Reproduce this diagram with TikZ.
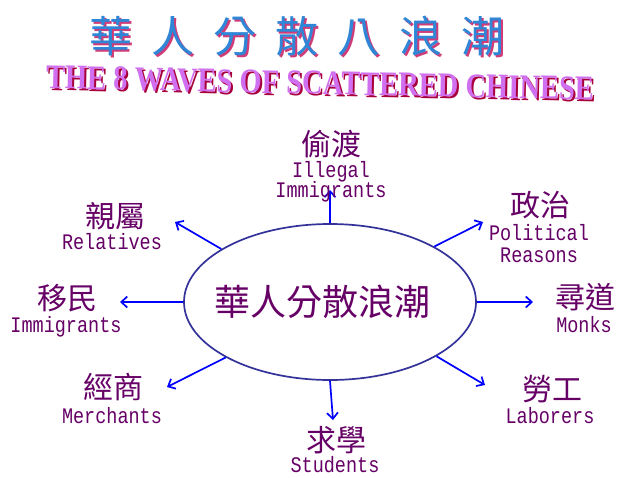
\documentclass[tikz,border=0pt]{standalone}
\usepackage{fontspec}
\usepackage{graphicx}
\usetikzlibrary{shapes.geometric,arrows.meta}
\newfontfamily\cjkf{Noto Sans CJK TC}
\newfontfamily\monof{Liberation Mono}
\newfontfamily\titlef{Liberation Serif}
\definecolor{lab}{HTML}{660066}
\definecolor{ellc}{HTML}{333399}
\definecolor{arrc}{HTML}{0000FF}
\definecolor{tmain}{HTML}{2F86D6}
\definecolor{tshadow}{HTML}{D03C78}
\definecolor{smain}{HTML}{D070F0}
\definecolor{sshadow}{HTML}{A8003C}
\newcommand\entx[1]{\scalebox{1}[1.2]{#1}}
\newcommand\subtxt{\resizebox{548pt}{23pt}{\titlef\bfseries THE 8 WAVES OF SCATTERED CHINESE}}
\newcommand\titletxt{華\hspace{19pt}人\hspace{19pt}分\hspace{19pt}散\hspace{19pt}八\hspace{19pt}浪\hspace{19pt}潮}
\newcommand\shadowed[4]{\rlap{\kern#3\raisebox{-#3}{\color{#2}#4}}{\color{#1}#4}}
\begin{document}
\begin{tikzpicture}[x=1pt,y=-1pt,
  zh/.style={text=lab, font=\cjkf\fontsize{30}{30}\selectfont, inner sep=0pt},
  enl/.style={text=lab, font=\monof\fontsize{18.5}{20}\selectfont, inner sep=0pt},
  arr/.style={-{Straight Barb[length=6pt,width=11pt]}, draw=arrc, line width=1.7pt},
  ttl/.style={font=\cjkf\fontsize{43}{43}\selectfont, inner sep=0pt}]
\useasboundingbox[fill=white] (0,0) rectangle (618,477);
% title
\node[ttl] (title) at (297,37) {\shadowed{tmain}{tshadow}{2pt}{\titletxt}};
\node[rotate=-1.2, inner sep=0pt] (sub) at (320,84) {\shadowed{smain}{sshadow}{2pt}{\subtxt}};
% central ellipse
\node[ellipse, draw=ellc, line width=1.7pt, minimum width=292pt, minimum height=156pt, inner sep=0pt] (ell) at (330,302) {};
\node[text=lab, font=\cjkf\fontsize{36}{36}\selectfont, inner sep=0pt] (ctext) at (322,302) {華人分散浪潮};
% tips
\coordinate (tU) at (330,190);
\coordinate (tTL) at (175,222);
\coordinate (tL) at (120,302);
\coordinate (tBL) at (167,387);
\coordinate (tB) at (333,420);
\coordinate (tBR) at (485,385);
\coordinate (tR) at (533,302);
\coordinate (tTR) at (483,222);
% arrows
\draw[arr] (ell.north) -- (tU);
\draw[arr] (ell.154) -- (tTL);
\draw[arr] (ell.west) -- (tL);
\draw[arr] (ell.208) -- (tBL);
\draw[arr] (ell.south) -- (tB);
\draw[arr] (ell.333) -- (tBR);
\draw[arr] (ell.east) -- (tR);
\draw[arr] (ell.28) -- (tTR);
% labels
\node[zh] (zU) at (331,144) {偷渡};
\node[enl] (eU1) at (331,172) {\entx{Illegal}};
\node[enl] (eU2) at (331,192) {\entx{Immigrants}};
\node[zh] (zTL) at (115,216) {親屬};
\node[enl] (eTL) at (112,242) {\entx{Relatives}};
\node[zh] (zL) at (67,298) {移民};
\node[enl] (eL) at (66,327) {\entx{Immigrants}};
\node[zh] (zBL) at (113,387) {經商};
\node[enl] (eBL) at (112,416) {\entx{Merchants}};
\node[zh] (zB) at (336,440) {求學};
\node[enl] (eB) at (335,465) {\entx{Students}};
\node[zh] (zBR) at (552,389) {勞工};
\node[enl] (eBR) at (550,416) {\entx{Laborers}};
\node[zh] (zR) at (585,297) {尋道};
\node[enl] (eR) at (584,325) {\entx{Monks}};
\node[zh] (zTR) at (540,205) {政治};
\node[enl] (eTR1) at (539,233) {\entx{Political}};
\node[enl] (eTR2) at (539,255) {\entx{Reasons}};
\end{tikzpicture}
\end{document}
